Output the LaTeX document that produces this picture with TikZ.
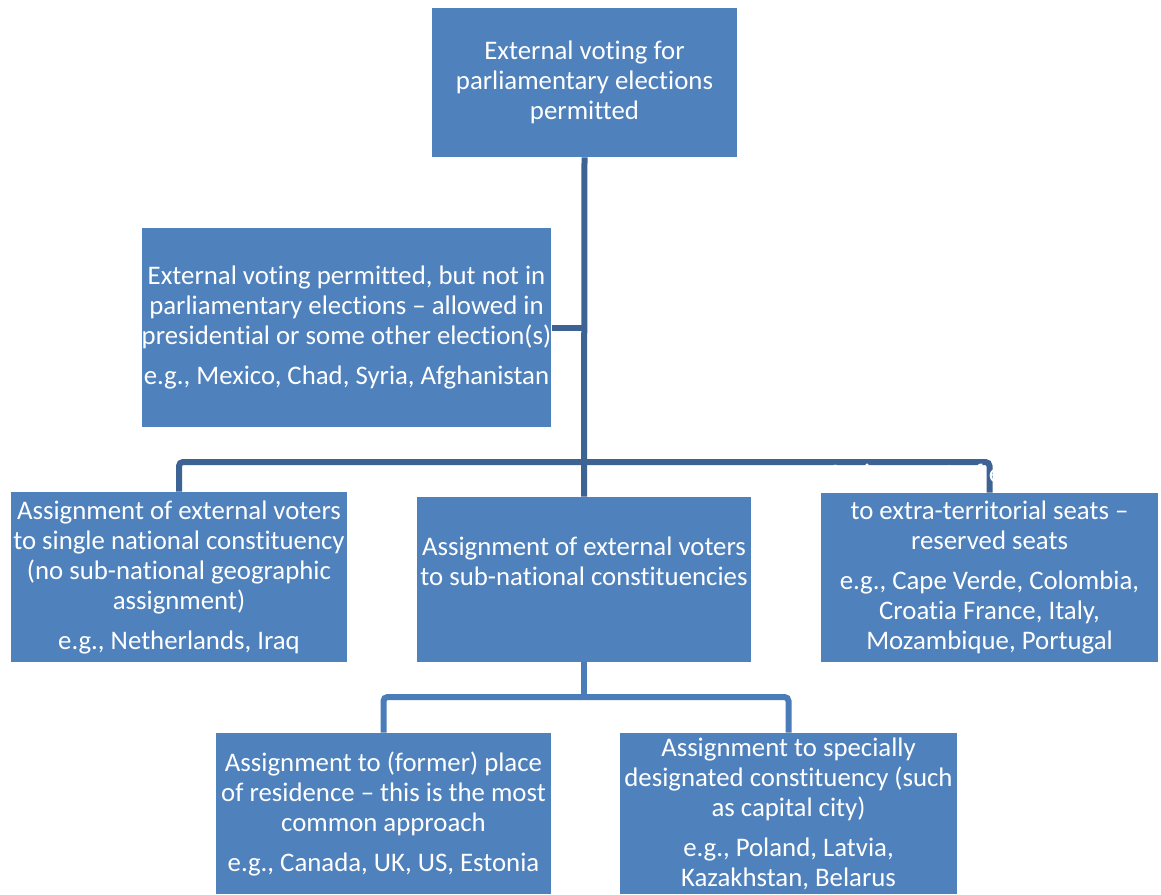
\documentclass[tikz,border=0pt]{standalone}
\usepackage{fontspec}
\setmainfont{Carlito}[Ligatures=NoCommon]
\usetikzlibrary{positioning,calc}
\definecolor{boxblue}{RGB}{79,129,189}
\definecolor{linkdark}{RGB}{60,99,148}
\definecolor{linklight}{RGB}{74,124,186}
\tikzset{
    vbox/.style={rectangle, fill=boxblue, text=white, align=center, inner sep=0pt, font=\fontsize{13.4}{15}\selectfont},
    vtext/.style={text=white, align=center, inner sep=0pt, font=\fontsize{13.4}{15}\selectfont},
    linkD/.style={line width=3pt, linkdark, rounded corners=2pt},
    linkL/.style={line width=3pt, linklight, rounded corners=2pt},
}
\begin{document}
\begin{tikzpicture}[x=0.5pt, y=-0.5pt]
    \useasboundingbox (0,0) rectangle (1161,894);
    % Top level
    \node[vbox, minimum width=152.5pt, minimum height=74.5pt] (top) at (584.5, 82.5)
        {External voting for\\parliamentary elections\\permitted};
    % Side branch
    \node[vbox, minimum width=203.5pt, minimum height=99.5pt] (side) at (346.5, 327.5)
        {External voting permitted, but not in\\parliamentary elections -- allowed in\\presidential or some other election(s)\\[5pt]e.g., Mexico, Chad, Syria, Afghanistan};
    % Second level
    \node[vbox, minimum width=168pt, minimum height=85pt] (single) at (179, 577)
        {Assignment of external voters\\to single national constituency\\(no sub-national geographic\\assignment)\\[5pt]e.g., Netherlands, Iraq};
    \node[vbox, minimum width=167pt, minimum height=82.5pt] (sub) at (584, 579.5) {};
    \node[vtext] (subtxt) at (584, 561)
        {Assignment of external voters\\to sub-national constituencies};
    \node[vbox, minimum width=168.5pt, minimum height=84.5pt] (extra) at (989.5, 577.5)
        {to extra-territorial seats --\\reserved seats\\[5pt]e.g., Cape Verde, Colombia,\\Croatia France, Italy,\\Mozambique, Portugal};
    % Third level
    \node[vbox, minimum width=167.5pt, minimum height=80.5pt] (former) at (383.5, 813.5)
        {Assignment to (former) place\\of residence -- this is the most\\common approach\\[5pt]e.g., Canada, UK, US, Estonia};
    \node[vbox, minimum width=168.5pt, minimum height=80.5pt] (capital) at (788.5, 813.5)
        {Assignment to specially\\designated constituency (such\\as capital city)\\[5pt]e.g., Poland, Latvia,\\Kazakhstan, Belarus};
    % Connectors
    \coordinate (bus) at (584, 462);
    \coordinate (split) at (584, 697);
    \draw[linkD] (top.south) -- (sub.north);
    \draw[linkD] (side.east) -- (side.east -| top.south);
    \draw[linkD] (single.north) |- (bus) -| (extra.north);
    \draw[linkL] (sub.south) -- (split);
    \draw[linkL] (former.north) |- (split) -| (capital.north);
    % First line of the right box, white on white
    \node[vtext] (extrahead) at (989.5, 475) {Assignment of external voters};
\end{tikzpicture}
\end{document}
